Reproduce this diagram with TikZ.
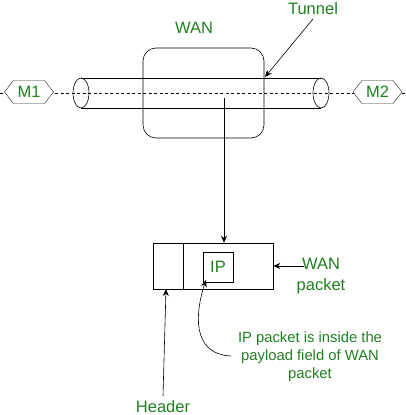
\documentclass[tikz,border=0pt]{standalone}
\usepackage{fontspec}
\setmainfont{Liberation Sans}
\usetikzlibrary{shapes.symbols,arrows.meta}
\definecolor{lblgreen}{RGB}{32,128,32}
\tikzset{
  lbl/.style={text=lblgreen, font=\fontsize{16.5}{19}\selectfont, inner sep=0pt},
  smalllbl/.style={text=lblgreen, font=\fontsize{14.8}{18}\selectfont, inner sep=0pt, align=center},
  hexnode/.style={signal, signal to=west and east, signal pointer angle=104, draw=black!85, thin,
     minimum width=49pt, minimum height=23pt, inner sep=0pt, text=lblgreen, font=\fontsize{16.5}{19}\selectfont},
  box/.style={draw=black, line width=0.6pt},
  conn/.style={draw=black, line width=0.6pt, -{Stealth[length=7pt,width=6pt]}},
  dashline/.style={draw=black, line width=0.5pt, dash pattern=on 3pt off 2.5pt}
}
\begin{document}
\begin{tikzpicture}[x=1pt,y=-1pt]
\useasboundingbox (0,0) rectangle (405,415);
% dashed axis
\coordinate (dl) at (0,93);
\coordinate (dr) at (405,93);
\draw[dashline] (dl) -- (dr);
% hexagons
\node[hexnode, fill=white] (m1) at (29,92) {M1};
\node[hexnode, fill=white] (m2) at (377.5,92) {M2};
% WAN cloud box
\node[box, rounded corners=13pt, minimum width=121pt, minimum height=90pt] (wan) at (203.5,93) {};
\node[lbl] (wanlbl) at (194,28) {WAN};
% tunnel cylinder
\draw[box] (81,93) ellipse [x radius=8, y radius=15];
\draw[box] (321,93) ellipse [x radius=8, y radius=15];
\coordinate (ttl) at (81,78);
\coordinate (ttr) at (321,78);
\coordinate (tbl) at (81,108);
\coordinate (tbr) at (321,108);
\draw[box] (ttl) -- (ttr);
\draw[box] (tbl) -- (tbr);
\coordinate (tunnelpt) at (265,77);
\node[lbl] (tunnellbl) at (313,9) {Tunnel};
\coordinate (tunnelsrc) at (313,19);
\draw[conn] (tunnelsrc) -- (tunnelpt);
% packet
\node[box, minimum width=120pt, minimum height=46pt, inner sep=0pt] (pkt) at (213,266) {};
\coordinate (divtop) at (183,243);
\coordinate (divbot) at (183,289);
\draw[box] (divtop) -- (divbot);
\node[box, minimum width=30pt, minimum height=30pt, inner sep=0pt, text=lblgreen, font=\fontsize{16.5}{19}\selectfont] (ip) at (218,267) {IP};
% vertical arrow
\coordinate (vtop) at (224,98);
\draw[conn] (vtop) -- (vtop |- pkt.north);
% WAN packet label
\node[lbl, align=center, font=\fontsize{16.5}{21}\selectfont] (wanpkt) at (321,276) {WAN\\packet};
\coordinate (wpsrc) at (304,266);
\draw[conn] (wpsrc) -- (pkt.east |- wpsrc);
% header
\node[lbl] (hdr) at (163,407) {Header};
\coordinate (hdrsrc) at (163,396);
\coordinate (hdrtip) at (166,289);
\draw[conn] (hdrsrc) -- (hdrtip);
% IP packet note
\node[smalllbl] (note) at (310,357) {IP packet is inside the\\payload field of WAN\\packet};
\coordinate (notesrc) at (231,356);
\coordinate (notetip) at (206,280);
\draw[conn] (notesrc) .. controls (190,354) and (196,310) .. (notetip);
\end{tikzpicture}
\end{document}
